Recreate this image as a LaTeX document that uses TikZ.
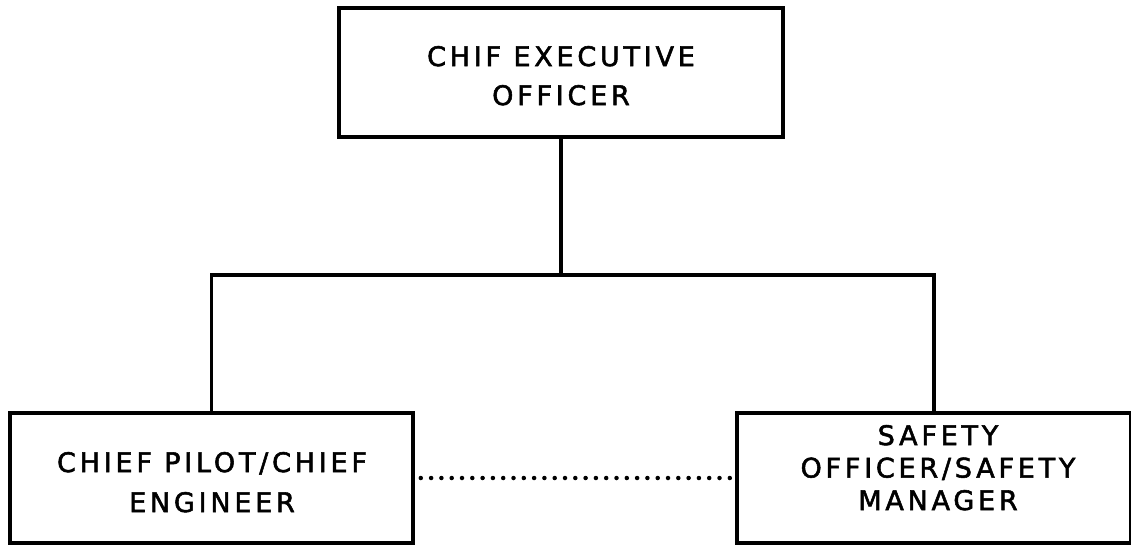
\documentclass[tikz,border=0pt]{standalone}
\usepackage{fontspec}
\setmainfont{DejaVu Sans}[FakeBold=2,LetterSpace=14]
\begin{document}
\begin{tikzpicture}[x=1pt,y=-1pt,
  orgbox/.style={draw=black,line width=3.6pt,inner sep=0pt},
  lbl/.style={align=center,inner sep=0pt,text height=19.7pt,text depth=0pt,
    font=\fontsize{27}{#1}\selectfont},
  link/.style={line width=3.6pt},
  dotlink/.style={line width=4.5pt,line cap=round,dash pattern=on 0pt off 10.3pt}]
\useasboundingbox (0,0) rectangle (1131,546);
\node[orgbox,minimum width=444pt,minimum height=129pt] (ceo) at (561,72.5) {};
\node[lbl=39pt] (ceot) at (561,95.2) {CHIF EXECUTIVE\\OFFICER};
\node[orgbox,minimum width=403pt,minimum height=130pt] (cp) at (211.5,478) {};
\node[lbl=40pt] (cpt) at (212,502.2) {CHIEF PILOT/CHIEF\\ENGINEER};
\node[orgbox,minimum width=394pt,minimum height=130pt] (so) at (934,478) {};
\node[lbl=32.5pt] (sot) at (938,500.2) {SAFETY\\OFFICER/SAFETY\\MANAGER};
\coordinate (j) at (561,275);
\draw[link] (ceo.south) -- (j);
\draw[link] (cp.north) |- (j) -| (so.north);
\draw[dotlink] ([xshift=6pt]cp.east) -- ([xshift=-4pt]so.west);
\end{tikzpicture}
\end{document}
